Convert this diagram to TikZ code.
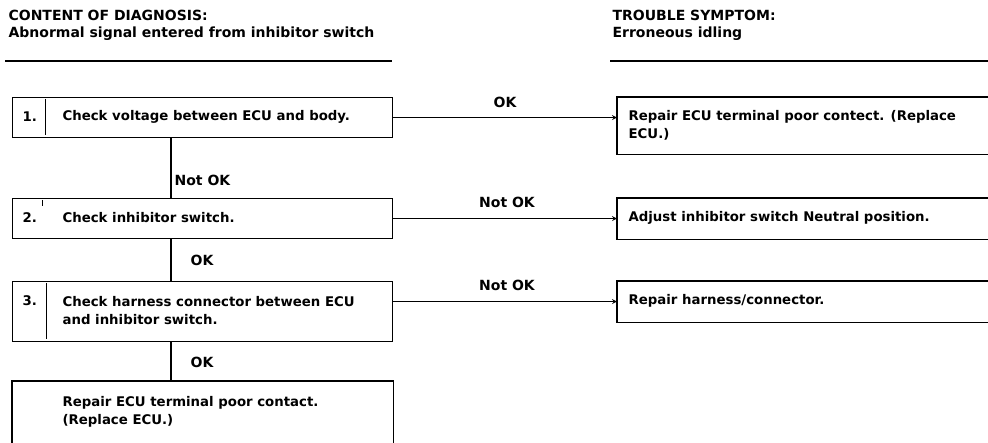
\documentclass[tikz,border=0pt]{standalone}
\usepackage{fontspec}
\setmainfont{DejaVu Sans}
\usetikzlibrary{positioning}

\tikzset{
  stepbox/.style={draw, line width=1.2pt, anchor=north west, minimum width=380pt, inner sep=0pt},
  fixbox/.style={anchor=north west, minimum width=373pt, inner sep=0pt},
  txt/.style={anchor=west, align=left, inner sep=0pt, font=\bfseries\fontsize{13.3}{18}\selectfont},
  lbl/.style={inner sep=0pt, font=\bfseries\fontsize{14}{16}\selectfont},
  hdr/.style={anchor=west, inner sep=0pt, font=\bfseries\fontsize{14}{16}\selectfont},
}

\begin{document}
\begin{tikzpicture}[x=1pt, y=-1pt, >=stealth, line width=1.2pt]
  \useasboundingbox (0,0) rectangle (988,443);

  % Headers
  \node[hdr] (cont) at (8,15) {CONTENT OF DIAGNOSIS:};
  \node[hdr] (abn) at (8,34) {Abnormal signal entered from inhibitor switch};
  \node[hdr] (trou) at (612,15) {TROUBLE SYMPTOM:};
  \node[hdr] (err) at (612,34) {Erroneous idling};
  \draw (5,61) -- (392,61);
  \draw (610,61) -- (988,61);

  % Check steps (left column)
  \node[stepbox, minimum height=40pt] (chk1) at (12,97) {};
  \node[txt] (num1) at (22,117) {1.};
  \node[txt] (txt1) at (62,117) {Check voltage between ECU and body.};
  \draw[line width=0.8pt] (45,99) -- (45,135);

  \node[stepbox, minimum height=40pt] (chk2) at (12,198) {};
  \node[txt] (num2) at (22,218) {2.};
  \node[txt] (txt2) at (62,218) {Check inhibitor switch.};
  \draw[line width=0.8pt] (42,200) -- (42,206);

  \node[stepbox, minimum height=60pt] (chk3) at (12,281) {};
  \node[txt] (num3) at (22,301) {3.};
  \node[txt] (txt3) at (62,311) {Check harness connector between ECU\\and inhibitor switch.};
  \draw[line width=0.8pt] (46,283) -- (46,339);

  % Last box, open at the bottom
  \node[stepbox, draw=none, minimum height=62pt] (fin) at (12,381) {};
  \draw (fin.south west) -- (fin.north west) -- (fin.north east) -- (fin.south east);
  \node[txt, anchor=north west] (txt4) at (62,396) {Repair ECU terminal poor contact.\\(Replace ECU.)};

  % Repairs (right column), open at the right
  \node[fixbox, minimum height=56pt] (fix1) at (617,97) {};
  \draw (fix1.north east) -- (fix1.north west) -- (fix1.south west) -- (fix1.south east);
  \node[txt, anchor=north west] (rep1) at (628,110) {Repair ECU terminal poor contect. (Replace\\ECU.)};

  \node[fixbox, minimum height=40pt] (fix2) at (617,198) {};
  \draw (fix2.north east) -- (fix2.north west) -- (fix2.south west) -- (fix2.south east);
  \node[txt] (rep2) at (628,218) {Adjust inhibitor switch Neutral position.};

  \node[fixbox, minimum height=40pt] (fix3) at (617,281) {};
  \draw (fix3.north east) -- (fix3.north west) -- (fix3.south west) -- (fix3.south east);
  \node[txt] (rep3) at (628,301) {Repair harness/connector.};

  % Vertical connectors
  \coordinate (vx) at (171,0);
  \draw (vx |- chk1.south) -- (vx |- chk2.north);
  \draw (vx |- chk2.south) -- (vx |- chk3.north);
  \draw (vx |- chk3.south) -- (vx |- fin.north);
  \node[lbl, anchor=west] (nok1) at (174,180) {Not OK};
  \node[lbl, anchor=west] (ok2) at (190,260) {OK};
  \node[lbl, anchor=west] (ok3) at (190,362) {OK};

  % Horizontal connectors
  \draw[->] (chk1.east) -- (chk1.east -| fix1.west);
  \draw[->] (chk2.east) -- (fix2.west);
  \draw[->] (fix3.west -| chk3.east) -- (fix3.west);
  \node[lbl] (ok1) at (505,102) {OK};
  \node[lbl] (nok2) at (507,202) {Not OK};
  \node[lbl] (nok3) at (507,285) {Not OK};
\end{tikzpicture}
\end{document}
